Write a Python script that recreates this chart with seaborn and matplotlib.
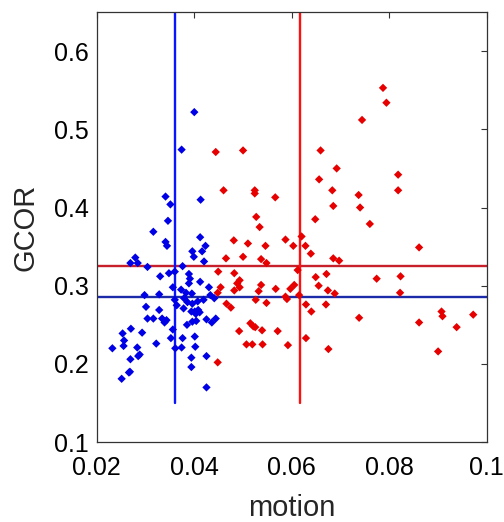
import matplotlib
matplotlib.use('Agg')
import matplotlib.pyplot as plt
import seaborn as sns
import pandas as pd

# low-motion group (blue)
blue_motion = [0.0400, 0.0374, 0.0413, 0.0341, 0.0351, 0.0346, 0.0316, 0.0341, 0.0344, 0.0412,
               0.0423, 0.0416, 0.0396, 0.0399, 0.0420, 0.0269, 0.0279, 0.0284, 0.0304, 0.0330,
               0.0348, 0.0360, 0.0389, 0.0391, 0.0389, 0.0412, 0.0430, 0.0356, 0.0383, 0.0298,
               0.0328, 0.0379, 0.0433, 0.0441, 0.0419, 0.0360, 0.0364, 0.0386, 0.0396, 0.0378,
               0.0394, 0.0401, 0.0408, 0.0301, 0.0328, 0.0316, 0.0304, 0.0334, 0.0339, 0.0343,
               0.0396, 0.0404, 0.0425, 0.0436, 0.0444, 0.0322, 0.0352, 0.0361, 0.0374, 0.0376,
               0.0401, 0.0402, 0.0270, 0.0232, 0.0253, 0.0256, 0.0255, 0.0283, 0.0288, 0.0285,
               0.0269, 0.0268, 0.0266, 0.0251, 0.0293, 0.0394, 0.0425, 0.0394, 0.0425, 0.0356,
               0.0376, 0.0373, 0.0395, 0.0407, 0.0403, 0.0411, 0.0385]
blue_gcor = [0.522, 0.474, 0.410, 0.414, 0.404, 0.383, 0.369, 0.356, 0.351, 0.362,
             0.351, 0.344, 0.344, 0.337, 0.331, 0.329, 0.336, 0.329, 0.324, 0.312,
             0.316, 0.318, 0.315, 0.309, 0.303, 0.305, 0.298, 0.298, 0.291, 0.288,
             0.289, 0.284, 0.288, 0.284, 0.282, 0.282, 0.275, 0.279, 0.277, 0.271,
             0.267, 0.267, 0.269, 0.273, 0.269, 0.258, 0.258, 0.258, 0.253, 0.256,
             0.254, 0.255, 0.257, 0.253, 0.258, 0.226, 0.233, 0.220, 0.221, 0.233,
             0.235, 0.222, 0.245, 0.220, 0.239, 0.230, 0.223, 0.221, 0.212, 0.210,
             0.206, 0.190, 0.189, 0.181, 0.240, 0.208, 0.210, 0.196, 0.170, 0.244,
             0.325, 0.295, 0.290, 0.280, 0.264, 0.266, 0.250]

# high-motion group (red)
red_motion = [0.0787, 0.0794, 0.0744, 0.0444, 0.0500, 0.0659, 0.0656, 0.0692, 0.0818, 0.0818,
              0.0460, 0.0524, 0.0524, 0.0566, 0.0683, 0.0737, 0.0740, 0.0685, 0.0527, 0.0648,
              0.0760, 0.0534, 0.0481, 0.0510, 0.0546, 0.0587, 0.0603, 0.0620, 0.0628, 0.0639,
              0.0465, 0.0500, 0.0537, 0.0548, 0.0685, 0.0697, 0.0861, 0.0449, 0.0482, 0.0612,
              0.0649, 0.0671, 0.0823, 0.0774, 0.0454, 0.0493, 0.0488, 0.0493, 0.0537, 0.0532,
              0.0567, 0.0597, 0.0605, 0.0655, 0.0674, 0.0448, 0.0482, 0.0526, 0.0587, 0.0590,
              0.0615, 0.0688, 0.0822, 0.0466, 0.0475, 0.0548, 0.0629, 0.0670, 0.0640, 0.0492,
              0.0515, 0.0521, 0.0525, 0.0539, 0.0571, 0.0507, 0.0519, 0.0540, 0.0592, 0.0629,
              0.0675, 0.0448, 0.0738, 0.0861, 0.0907, 0.0909, 0.0938, 0.0972, 0.0900]
red_gcor = [0.553, 0.534, 0.512, 0.471, 0.473, 0.473, 0.436, 0.450, 0.442, 0.422,
            0.422, 0.422, 0.418, 0.413, 0.422, 0.416, 0.400, 0.402, 0.388, 0.385,
            0.379, 0.375, 0.358, 0.354, 0.351, 0.359, 0.351, 0.363, 0.351, 0.341,
            0.335, 0.337, 0.334, 0.329, 0.335, 0.332, 0.349, 0.318, 0.316, 0.320,
            0.311, 0.315, 0.312, 0.309, 0.298, 0.307, 0.303, 0.298, 0.301, 0.293,
            0.296, 0.296, 0.301, 0.300, 0.294, 0.291, 0.294, 0.282, 0.286, 0.283,
            0.288, 0.290, 0.291, 0.277, 0.272, 0.278, 0.276, 0.276, 0.267, 0.242,
            0.252, 0.248, 0.247, 0.243, 0.242, 0.225, 0.225, 0.225, 0.224, 0.233,
            0.219, 0.202, 0.259, 0.253, 0.267, 0.261, 0.247, 0.263, 0.216]

# group means
blue_mean_motion, red_mean_motion = 0.0361, 0.0616
blue_mean_gcor, red_mean_gcor = 0.2855, 0.325

df = pd.DataFrame({
    'motion': blue_motion + red_motion,
    'GCOR': blue_gcor + red_gcor,
    'group': ['low'] * len(blue_motion) + ['high'] * len(red_motion),
})

sns.set_style('white')
plt.rcParams['font.family'] = ['Liberation Sans', 'DejaVu Sans']

fig = plt.figure(figsize=(5.04, 5.22), dpi=100)
ax = fig.add_axes([0.192, 0.153, 0.774, 0.824])

sns.scatterplot(data=df, x='motion', y='GCOR', hue='group',
                palette={'low': '#0000e6', 'high': '#e60000'},
                marker='D', s=18, linewidth=0, legend=False, ax=ax, zorder=3)

ax.axhline(red_mean_gcor, color='#c8202a', lw=1.7, zorder=2)
ax.axhline(blue_mean_gcor, color='#1a2aa8', lw=1.7, zorder=2)
ax.plot([blue_mean_motion, blue_mean_motion], [0.15, 0.65], color='#0a14ff', lw=1.7, zorder=2)
ax.plot([red_mean_motion, red_mean_motion], [0.15, 0.65], color='#ff1010', lw=1.7, zorder=2)

ax.set_xlim(0.02, 0.1)
ax.set_ylim(0.1, 0.65)
ax.set_xticks([0.02, 0.04, 0.06, 0.08, 0.1])
ax.set_xticklabels(['0.02', '0.04', '0.06', '0.08', '0.1'])
ax.set_yticks([0.1, 0.2, 0.3, 0.4, 0.5, 0.6])
ax.set_yticklabels(['0.1', '0.2', '0.3', '0.4', '0.5', '0.6'])
ax.tick_params(direction='in', length=4, width=0.8, top=True, right=True,
               labelsize=18, colors='#333333', labelcolor='black')
ax.tick_params(axis='x', pad=10)
ax.tick_params(axis='y', pad=6)
for sp in ax.spines.values():
    sp.set_color('#333333')
    sp.set_linewidth(0.9)

ax.set_xlabel('motion', fontsize=21, labelpad=10)
ax.set_ylabel('GCOR', fontsize=21, labelpad=10)

fig.savefig('out.png', dpi=100)
